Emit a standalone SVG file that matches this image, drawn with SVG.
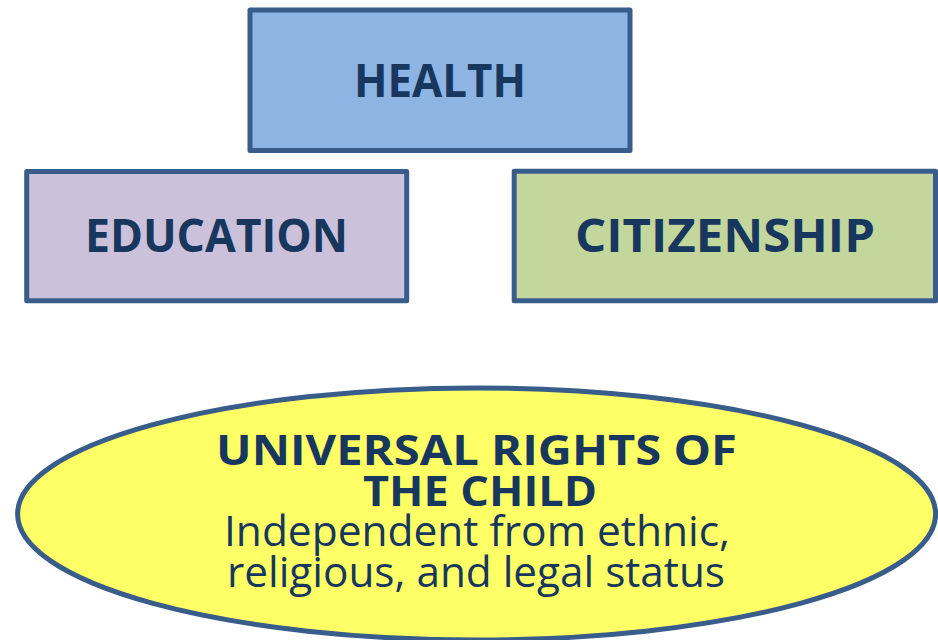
<svg xmlns="http://www.w3.org/2000/svg" width="938" height="640" viewBox="0 0 938 640">
<style>
.box{stroke:#385D8A;stroke-width:5;stroke-linejoin:round}
.t{font-family:"Open Sans","DejaVu Sans",sans-serif;fill:#17375E;text-anchor:middle}
.b{font-weight:bold}
</style>
<rect width="938" height="640" fill="#ffffff"/>
<g id="connectors"></g>
<g id="health">
<rect class="box" x="250" y="10" width="380" height="140.5" fill="#8EB4E3"/>
<text class="t b" x="440" y="97" font-size="46" textLength="172" lengthAdjust="spacingAndGlyphs">HEALTH</text>
</g>
<g id="education">
<rect class="box" x="26.7" y="171.5" width="380" height="129.3" fill="#CCC1DA"/>
<text class="t b" x="216.5" y="251.7" font-size="46" textLength="263" lengthAdjust="spacingAndGlyphs">EDUCATION</text>
</g>
<g id="citizenship">
<rect class="box" x="514.2" y="171.2" width="421.3" height="129.6" fill="#C3D69B"/>
<text class="t b" x="725" y="251.7" font-size="46" textLength="300" lengthAdjust="spacingAndGlyphs">CITIZENSHIP</text>
</g>
<g id="rights">
<ellipse class="box" cx="476.6" cy="514" rx="459" ry="126" fill="#FFFF66"/>
<text class="t" font-size="42"><tspan class="b" x="476.5" y="465" textLength="521" lengthAdjust="spacingAndGlyphs">UNIVERSAL RIGHTS OF</tspan><tspan class="b" x="480" y="505.5" textLength="234" lengthAdjust="spacingAndGlyphs">THE CHILD</tspan><tspan x="477" y="545.5" textLength="506" lengthAdjust="spacingAndGlyphs">Independent from ethnic,</tspan><tspan x="476" y="587" textLength="498" lengthAdjust="spacingAndGlyphs">religious, and legal status</tspan></text>
</g>
</svg>
